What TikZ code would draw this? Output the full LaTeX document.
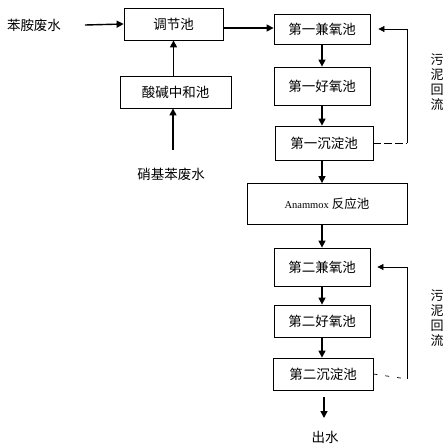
\documentclass[tikz,border=0pt]{standalone}
\usepackage{fontspec}
\usetikzlibrary{arrows.meta, positioning, calc}
\newfontfamily\cjk{Noto Sans CJK SC}
\newfontfamily\latin{Liberation Serif}

\begin{document}
\begin{tikzpicture}[
    x=1pt, y=-1pt,
    every node/.style={font=\cjk\fontsize{13.5}{16}\selectfont},
    pool/.style={rectangle, draw, line width=0.8pt, minimum width=96pt, minimum height=32pt, inner sep=0pt, align=center},
    flow/.style={-{Triangle[length=7pt,width=7pt]}, line width=1.4pt},
    back/.style={-{Triangle[length=6pt,width=6pt]}, line width=0.7pt},
    vlabel/.style={align=center, font=\cjk\fontsize{13}{15}\selectfont}
]
\useasboundingbox (0,0) rectangle (448,448);

% Pretreatment
\node (anfs) at (34,25) {苯胺废水};
\node[pool, minimum width=99pt] (tjc) at (173.5,24) {调节池};
\node[pool, minimum width=111pt] (sjc) at (175.5,92) {酸碱中和池};
\node (xjfs) at (171,174) {硝基苯废水};
\coordinate (in1) at (85,25);
\coordinate (in2) at (173,150);

% First stage
\node[pool, minimum height=30pt] (jy1) at (322,29) {第一兼氧池};
\node[pool, minimum height=38pt] (hy1) at (322,86) {第一好氧池};
\node[pool, minimum width=98pt, minimum height=34pt] (cd1) at (324,143) {第一沉淀池};

% Anammox
\node[pool, minimum width=160pt, minimum height=41pt] (ana) at (327,204) {{\latin\fontsize{10.5}{12}\selectfont Anammox} {\fontsize{12.5}{14}\selectfont 反应池}};

% Second stage
\node[pool, minimum height=38pt] (jy2) at (322,267) {第二兼氧池};
\node[pool] (hy2) at (322,321) {第二好氧池};
\node[pool, minimum width=100pt] (cd2) at (323,374) {第二沉淀池};
\node (cs) at (325,437) {出水};
\coordinate (out) at (324,418);

% Sludge return
\node[vlabel] (hl1) at (437,82) {污\\泥\\回\\流};
\node[vlabel] (hl2) at (437,318) {污\\泥\\回\\流};
\coordinate (r1) at (407,143);
\coordinate (r2) at (407,379);

% Arrows
\draw[flow] (in1) -- (tjc.west);
\draw[flow] (in2) -- (in2 |- sjc.south);
\draw[flow] (sjc.north -| tjc) -- (tjc.south);
\draw[flow] (tjc.east |- 0,28) -- (jy1.west |- 0,28);
\draw[flow] (jy1.south) -- (hy1.north);
\draw[flow] (hy1.south) -- (hy1.south |- cd1.north);
\draw[flow] (cd1.south -| hy1) -- (hy1 |- ana.north);
\draw[flow] (ana.south -| jy2) -- (jy2.north);
\draw[flow] (jy2.south) -- (hy2.north);
\draw[flow] (hy2.south) -- (hy2.south |- cd2.north);
\draw[flow] (out |- 0,397) -- (out);

\draw[line width=0.7pt, dash pattern=on 8pt off 3pt] (cd1.east) -- (r1);
\draw[back, shorten >=8pt] (r1) |- (jy1.east);
\draw[line width=0.7pt, dash pattern=on 4pt off 8pt] (cd2.east) -- (r2);
\draw[back, shorten >=7pt] (r2) |- (jy2.east);

\end{tikzpicture}
\end{document}
